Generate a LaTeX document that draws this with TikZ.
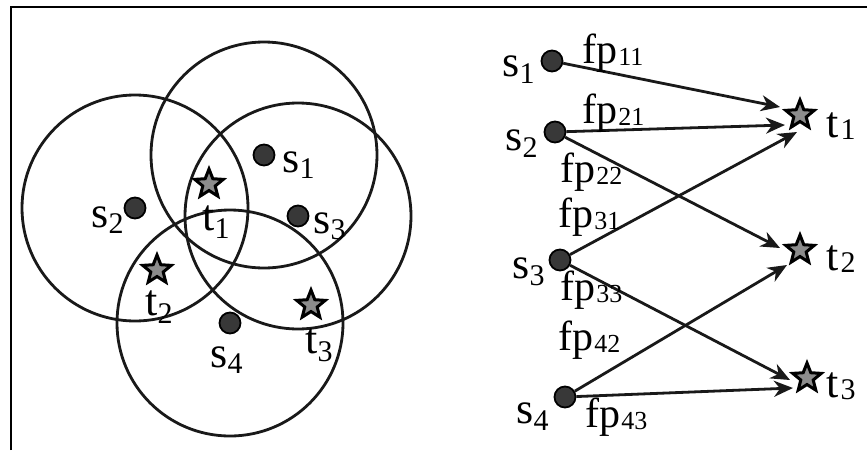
\documentclass[tikz,border=0pt]{standalone}
\usepackage{fontspec}
\setmainfont{Liberation Serif}
\usetikzlibrary{shapes.geometric,arrows.meta}
\newcommand{\lsub}[3]{\raisebox{-#1}{\fontsize{#2}{#2}\selectfont #3}}
\begin{document}
\begin{tikzpicture}[x=0.5pt,y=-0.5pt,
  sdot/.style={circle,draw=black,fill=black!78,line width=0.9pt,minimum size=10.5pt,inner sep=0pt},
  tstar/.style={star,star points=5,star point ratio=2.3,draw=black,fill=black!45,line width=1.5pt,minimum size=15pt,inner sep=0pt},
  coverage/.style={draw=black!90,line width=1.4pt},
  flowarrow/.style={draw=black!90,line width=1.4pt,-{Stealth[length=9.5pt,width=8pt,inset=3pt]}},
  frameline/.style={draw=black,line width=1.3pt},
  lbl/.style={inner sep=0pt,anchor=base west,font=\fontsize{22}{26}\selectfont},
  rlbl/.style={inner sep=0pt,anchor=base west,font=\fontsize{22}{26}\selectfont},
  flbl/.style={inner sep=0pt,anchor=base west,font=\fontsize{21}{25}\selectfont},
]
\useasboundingbox (0,0) rectangle (867,450);
% frame
\coordinate (fa) at (11,450);
\coordinate (fb) at (11,7);
\coordinate (fc) at (867,7);
\draw[frameline] (fa) -- (fb) -- (fc);

% ---------- left panel ----------
\node[sdot] (s1) at (264,155) {};
\node[sdot] (s2) at (135,208) {};
\node[sdot] (s3) at (298,216) {};
\node[sdot] (s4) at (230,323) {};
\draw[coverage] (s1.center) circle[radius=113];
\draw[coverage] (s2.center) circle[radius=113];
\draw[coverage] (s3.center) circle[radius=113];
\draw[coverage] (s4.center) circle[radius=113];
\node[tstar] (t1) at (209,184) {};
\node[tstar] (t2) at (157,270) {};
\node[tstar] (t3) at (311,305) {};

\node[lbl] (ls1) at (282,172) {s\lsub{3pt}{15}{1}};
\node[lbl] (ls2) at (91,227) {s\lsub{3pt}{15}{2}};
\node[lbl] (ls3) at (313,233) {s\lsub{3pt}{15}{3}};
\node[lbl] (ls4) at (210,367) {s\lsub{3pt}{15}{4}};
\node[lbl] (lt1) at (202,230) {t\lsub{4pt}{15}{1}};
\node[lbl] (lt2) at (145,315) {t\lsub{4pt}{15}{2}};
\node[lbl] (lt3) at (305,353) {t\lsub{4pt}{15}{3}};

% ---------- right panel ----------
\node[sdot] (rs1) at (552,61) {};
\node[sdot] (rs2) at (555,132) {};
\node[sdot] (rs3) at (560,260) {};
\node[sdot] (rs4) at (565,397) {};
\node[tstar] (rt1) at (800,115) {};
\node[tstar] (rt2) at (800,250) {};
\node[tstar] (rt3) at (807,378) {};

\draw[flowarrow] (rs1) -- ([xshift=-10pt,yshift=4pt]rt1.center);
\draw[flowarrow] (rs2) -- ([xshift=-7.5pt,yshift=-5pt]rt1.center);
\draw[flowarrow] (rs3) -- ([xshift=-1.5pt,yshift=-8.5pt]rt1.center);
\draw[flowarrow] (rs2) -- ([xshift=-10pt,yshift=1pt]rt2.center);
\draw[flowarrow] (rs4) -- ([xshift=-6.5pt,yshift=-7.5pt]rt2.center);
\draw[flowarrow] (rs3) -- ([xshift=-8.5pt,yshift=-1pt]rt3.center);
\draw[flowarrow] (rs4) -- ([xshift=-7pt,yshift=-5pt]rt3.center);

\node[rlbl] (rls1) at (502,76) {s\lsub{3.5pt}{15}{1}};
\node[rlbl] (rls2) at (505,150) {s\lsub{3.5pt}{15}{2}};
\node[rlbl] (rls3) at (512,278) {s\lsub{3.5pt}{15}{3}};
\node[rlbl] (rls4) at (516,423) {s\lsub{3.5pt}{15}{4}};
\node[rlbl] (rlt1) at (826,137) {t\kern1pt\lsub{1pt}{15}{1}};
\node[rlbl] (rlt2) at (826,270) {t\kern1pt\lsub{1pt}{15}{2}};
\node[rlbl] (rlt3) at (826,397) {t\kern1pt\lsub{1pt}{15}{3}};

\node[flbl] (f11) at (582,63) {fp\kern0.5pt\lsub{1pt}{13}{11}};
\node[flbl] (f21) at (582,123) {fp\kern0.5pt\lsub{1pt}{13}{21}};
\node[flbl] (f22) at (560,182) {fp\kern0.5pt\lsub{1pt}{13}{22}};
\node[flbl] (f31) at (558,227) {fp\kern0.5pt\lsub{1pt}{13}{31}};
\node[flbl] (f33) at (560,300) {fp\kern0.5pt\lsub{1pt}{13}{33}};
\node[flbl] (f42) at (558,350) {fp\kern0.5pt\lsub{1pt}{13}{42}};
\node[flbl] (f43) at (585,427) {fp\kern0.5pt\lsub{1pt}{13}{43}};
\end{tikzpicture}
\end{document}
